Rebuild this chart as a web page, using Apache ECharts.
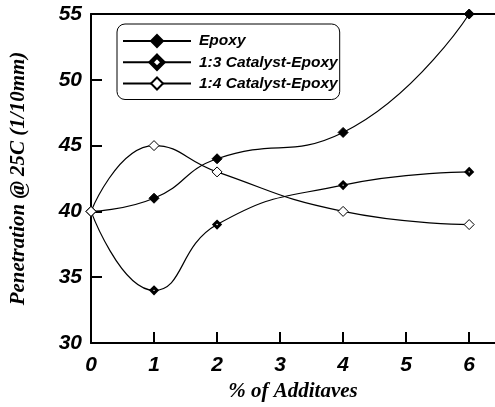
<!DOCTYPE html>
<html>
<head>
<meta charset="utf-8">
<title>Penetration vs additives</title>
<script src="https://cdn.jsdelivr.net/npm/echarts@6/dist/echarts.min.js"></script>
<style>
  html, body { margin: 0; padding: 0; background: #fff; }
  #chart { width: 495px; height: 407px; }
</style>
</head>
<body>
<div id="chart"></div>
<script>
// Additive content (%) and measured penetration at 25C (1/10 mm)
const additives = [0, 1, 2, 4, 6];
const epoxy = [40, 41, 44, 46, 55];
const catalyst13 = [40, 34, 39, 42, 43];
const catalyst14 = [40, 45, 43, 40, 39];
const xTicks = [0, 1, 2, 3, 4, 5, 6];
const seriesNames = ['Epoxy', '1:3 Catalyst-Epoxy', '1:4 Catalyst-Epoxy'];

const sansFont = '"Liberation Sans", Arial, sans-serif';
const serifFont = '"Liberation Serif", "Times New Roman", serif';

function pairs(ys) {
  return additives.map((x, i) => [x, ys[i]]);
}

const chart = echarts.init(document.getElementById('chart'), null, { renderer: 'canvas' });

const lineStyle = { color: '#000', width: 1.2 };

chart.setOption({
  animation: false,
  backgroundColor: '#fff',
  grid: { left: 91, top: 14, right: 0, bottom: 63, containLabel: false },
  legend: {
    orient: 'vertical',
    left: 117,
    top: 24,
    itemWidth: 68,
    itemHeight: 15,
    itemGap: 5,
    padding: [9, 2, 8, 5],
    borderColor: '#000',
    borderWidth: 1,
    borderRadius: 8,
    backgroundColor: '#fff',
    data: [
      { name: seriesNames[0] },
      // heavier outline leaves only a small white centre in the key
      { name: seriesNames[1], itemStyle: { borderWidth: 4.5 } },
      { name: seriesNames[2] }
    ],
    textStyle: {
      fontFamily: sansFont,
      fontStyle: 'italic',
      fontWeight: 'bold',
      fontSize: 15.5,
      color: '#000',
      padding: [0, 0, 0, 3]
    }
  },
  xAxis: [
    {
      type: 'value',
      position: 'bottom',
      min: 0,
      max: 6.41,
      interval: 1,
      name: '% of Additaves',
      nameLocation: 'middle',
      nameGap: 38,
      nameTextStyle: {
        fontFamily: serifFont,
        fontStyle: 'italic',
        fontWeight: 'bold',
        fontSize: 21,
        color: '#000'
      },
      splitLine: { show: false },
      axisLine: { show: true, lineStyle: { color: '#000', width: 2 } },
      axisTick: {
        show: true,
        inside: true,
        length: 11,
        customValues: xTicks,
        lineStyle: { color: '#000', width: 2 }
      },
      axisLabel: {
        customValues: xTicks,
        margin: 12,
        fontFamily: sansFont,
        fontStyle: 'italic',
        fontWeight: 'bold',
        fontSize: 21,
        color: '#000'
      }
    },
    {
      // plain frame line along the top of the plot
      type: 'value',
      position: 'top',
      min: 0,
      max: 6.41,
      splitLine: { show: false },
      axisLine: { show: true, lineStyle: { color: '#000', width: 2 } },
      axisTick: { show: false },
      axisLabel: { show: false }
    }
  ],
  yAxis: {
    type: 'value',
    min: 30,
    max: 55,
    interval: 5,
    name: 'Penetration @ 25C (1/10mm)',
    nameLocation: 'middle',
    nameRotate: 90,
    nameGap: 62,
    nameTextStyle: {
      fontFamily: serifFont,
      fontStyle: 'italic',
      fontWeight: 'bold',
      fontSize: 21,
      color: '#000'
    },
    splitLine: { show: false },
    axisLine: { show: true, lineStyle: { color: '#000', width: 2 } },
    axisTick: { show: true, inside: true, length: 11, lineStyle: { color: '#000', width: 2 } },
    axisLabel: {
      margin: 9,
      fontFamily: sansFont,
      fontStyle: 'italic',
      fontWeight: 'bold',
      fontSize: 21,
      color: '#000'
    }
  },
  series: [
    {
      name: seriesNames[0],
      type: 'line',
      smooth: 0.5,
      data: pairs(epoxy),
      symbol: 'diamond',
      symbolSize: 10,
      clip: false,
      lineStyle: lineStyle,
      itemStyle: { color: '#000', borderColor: '#000', borderWidth: 1 }
    },
    {
      name: seriesNames[1],
      type: 'line',
      smooth: 0.5,
      data: pairs(catalyst13),
      symbol: 'diamond',
      symbolSize: 6,
      clip: false,
      lineStyle: lineStyle,
      itemStyle: { color: '#fff', borderColor: '#000', borderWidth: 3 }
    },
    {
      name: seriesNames[2],
      type: 'line',
      smooth: 0.5,
      data: pairs(catalyst14),
      symbol: 'diamond',
      symbolSize: 10,
      clip: false,
      lineStyle: lineStyle,
      itemStyle: { color: '#fff', borderColor: '#000', borderWidth: 1 }
    }
  ]
});
</script>
</body>
</html>
